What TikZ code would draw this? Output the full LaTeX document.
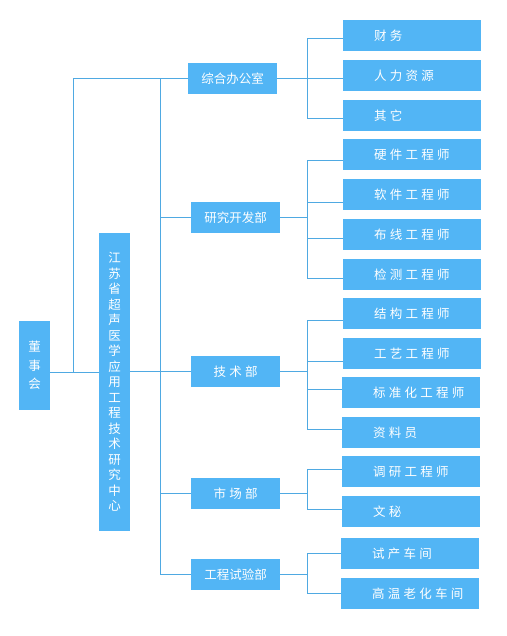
\documentclass[tikz,border=0pt]{standalone}
\usepackage{fontspec}
\usepackage{xcolor}
\usepackage{tikz}
\setmainfont{Noto Sans CJK SC}
\newfontfamily\ocwide[LetterSpace=26]{Noto Sans CJK SC}
\definecolor{OCBlue}{HTML}{52B5F5}
\definecolor{OCLine}{HTML}{4FA9E2}

\begin{document}
\begin{tikzpicture}[x=1pt,y=-1pt,
  unit/.style={fill=OCBlue,text=white,inner sep=0pt,minimum height=31pt,font=\fontsize{12.5}{15}\selectfont},
  dept/.style={unit,minimum width=89pt},
  widedept/.style={dept,font=\ocwide\fontsize{12.5}{15}\selectfont},
  leaf/.style={unit,anchor=west,text width=138pt,align=left,execute at begin node={\hspace*{31pt}},font=\ocwide\fontsize{12.5}{15}\selectfont},
  conn/.style={OCLine,line width=1pt}]
\path[use as bounding box] (0,0) rectangle (506,636);
\fill[white] (0,0) rectangle (506,636);
\node[unit,minimum width=31pt,minimum height=89pt,align=center,font=\fontsize{12.5}{18.5}\selectfont] (board) at (34.5,365.5) {董\\事\\会};
\node[unit,minimum width=31pt,minimum height=298pt,align=center,font=\fontsize{12.5}{15.5}\selectfont] (centre) at (114.5,382) {江\\苏\\省\\超\\声\\医\\学\\应\\用\\工\\程\\技\\术\\研\\究\\中\\心};
\node[dept] (zonghe) at (232.5,78.5) {综合办公室};
\node[dept] (yanfa) at (235.5,217.5) {研究开发部};
\node[widedept] (jishu) at (235.5,371.5) {技术部};
\node[widedept] (shichang) at (235.5,493.5) {市场部};
\node[dept] (shiyan) at (235.5,574.5) {工程试验部};
\node[leaf] (caiwu) at (343,35.5) {财务};
\node[leaf] (renli) at (343,75.5) {人力资源};
\node[leaf] (qita) at (343,115.5) {其它};
\node[leaf] (yingjian) at (343,154.5) {硬件工程师};
\node[leaf] (ruanjian) at (343,194.5) {软件工程师};
\node[leaf] (buxian) at (343,234.5) {布线工程师};
\node[leaf] (jiance) at (343,274.5) {检测工程师};
\node[leaf] (jiegou) at (343,313.5) {结构工程师};
\node[leaf] (gongyi) at (343,353.5) {工艺工程师};
\node[leaf] (biaozhun) at (342,392.5) {标准化工程师};
\node[leaf] (ziliao) at (342,432.5) {资料员};
\node[leaf] (diaoyan) at (342,471.5) {调研工程师};
\node[leaf] (wenmi) at (342,511.5) {文秘};
\node[leaf] (shichan) at (341,553.5) {试产车间};
\node[leaf] (gaowen) at (341,593.5) {高温老化车间};
\coordinate (link) at (73,372.5);
\coordinate (trunk) at (160,78.5);
\coordinate (rbus) at (307.5,0);
\draw[conn] (board.east |- link) -- (centre.west |- link);
\draw[conn] (link) |- (zonghe.west);
\draw[conn] (centre.east |- jishu.west) -- (trunk |- jishu.west);
\foreach \d in {yanfa,jishu,shichang,shiyan}
  \draw[conn] (trunk) |- (\d.west);
\foreach \d in {zonghe,yanfa,jishu,shichang,shiyan}
  \draw[conn] (\d.east) -- (\d.east -| rbus);
\foreach \l/\dy in {caiwu/-3.5,renli/-3.5,qita/-3.5}
  \draw[conn] (zonghe.east -| rbus) |- ([yshift=\dy pt]\l.west);
\foreach \l/\dy in {yingjian/-6.5,ruanjian/-8.5,buxian/-3.5,jiance/-3.5}
  \draw[conn] (yanfa.east -| rbus) |- ([yshift=\dy pt]\l.west);
\foreach \l/\dy in {jiegou/-6.5,gongyi/-7.5,biaozhun/3.5,ziliao/3.5}
  \draw[conn] (jishu.east -| rbus) |- ([yshift=\dy pt]\l.west);
\foreach \l/\dy in {diaoyan/2.5,wenmi/2.5}
  \draw[conn] (shichang.east -| rbus) |- ([yshift=\dy pt]\l.west);
\foreach \l/\dy in {shichan/0,gaowen/0}
  \draw[conn] (shiyan.east -| rbus) |- ([yshift=\dy pt]\l.west);
\end{tikzpicture}
\end{document}
